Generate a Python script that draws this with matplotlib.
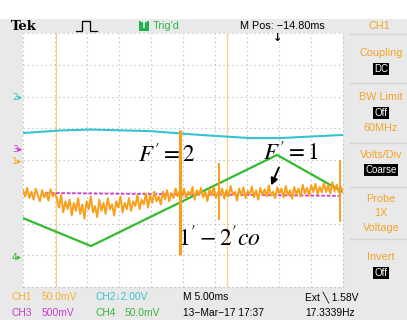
import numpy as np
import matplotlib
matplotlib.use("Agg")
import matplotlib.pyplot as plt
from matplotlib.patches import Rectangle
from matplotlib.lines import Line2D

# ── Trace data (screen divisions: x 0..10, y -4..4) ─────────────────

ch2_x = [0, 1.16, 2.09, 3.97, 5.53, 7.09, 8.03, 10]
ch2_y = [0.85, 0.93, 0.96, 0.91, 0.79, 0.69, 0.69, 0.79]

ch4_x = [0, 2.125, 7.94, 10]
ch4_y = [-1.83, -2.71, 0.16, -1.01]

ch3_x = [0.69, 10]
ch3_y = [-1.04, -1.13]

ch1_y = [
    # left, flat part
    -0.95, -1.15, -0.88, -1.2, -1.0, -1.25, -0.9, -1.1, -1.3, -0.95, -1.18, -1.02, -1.28, -0.92, -1.15, -1.05,
    # dip
    -1.2, -1.5, -1.1, -1.65, -1.3, -1.55, -1.25, -1.75, -1.35, -1.6, -1.2, -1.7, -1.4, -1.85, -1.3, -1.55,
    -1.15, -1.65, -1.45, -1.8, -1.25, -1.6, -1.35, -1.7, -1.2, -1.55, -1.4, -1.75, -1.3, -1.5, -1.15, -1.65,
    -1.35, -1.55, -1.2, -1.6, -1.3, -1.45, -1.1, -1.55, -1.25, -1.4, -1.05, -1.5,
    # recovery
    -1.1, -1.35, -1.0, -1.3, -1.15, -1.4, -1.0, -1.25, -0.95, -1.3, -1.05, -1.2, -0.9, -1.15,
    # right part
    -0.95, -1.15, -0.9, -1.2, -1.0, -1.1, -0.85, -1.25, -0.95, -1.1, -0.88, -1.18, -1.0, -1.3, -0.92, -1.12,
    -0.85, -1.2, -1.0, -1.08, -0.9, -1.22, -0.95, -1.15, -0.82, -1.1, -1.0, -1.28, -0.9, -1.12, -0.86, -1.2,
    -0.98, -1.08, -0.84, -1.18, -0.95, -1.25, -0.88, -1.1, -0.92, -1.15, -0.8, -1.12, -1.0, -1.2, -0.86, -1.05,
    -0.9, -1.18, -0.82, -1.1, -0.95, -1.22, -0.85, -1.08, -0.9, -1.15, -0.78, -1.05, -0.88, -1.12, -0.8, -1.0,
    -0.75, -1.08, -0.85, -1.02, -0.72, -1.0, -0.8, -1.05, -0.7, -0.98, -0.78, -1.02, -0.85, -1.0,
]
ch1_x = np.linspace(0, 10, len(ch1_y))

spike_x = [4.91, 6.125, 9.91]
spike_top = [0.94, -0.09, 0.0]
spike_bot = [-3.0, -1.89, -1.95]
spike_w = [2.2, 1.4, 1.4]

cursor_x = [1.03, 6.375]

# colours
ORANGE = "#f9a01b"
CURSOR = "#f9cf85"
CYAN = "#35c3cf"
MAGENTA = "#d03cd0"
GREEN = "#30bb30"
PANEL_TXT = "#f2a52a"
BG = "#e9e9e9"

W, H = 407, 320
SANS = "Liberation Sans"


def px(x, y):
    return x / W, 1 - y / H


fig = plt.figure(figsize=(W / 100, H / 100), dpi=100, facecolor=BG)

# white strip above the header
fig.patches.append(Rectangle((0, 1 - 19 / H), 1, 19 / H, transform=fig.transFigure,
                             facecolor="white", edgecolor="none"))

# ── Graticule ──
ax = fig.add_axes([23 / W, (H - 287) / H, 320 / W, 254 / H])
ax.set_facecolor("white")
ax.set_xlim(0, 10)
ax.set_ylim(-4, 4)
ax.set_xticks([])
ax.set_yticks([])
for s in ax.spines.values():
    s.set_visible(False)
for k in range(11):
    ax.axvline(k, color="#b5b5b5", lw=0.8, ls=(0, (1, 3)), clip_on=False, zorder=0)
for k in range(-4, 5):
    ax.axhline(k, color="#b5b5b5", lw=0.8, ls=(0, (1, 3)), clip_on=False, zorder=0)

# cursors
for cx in cursor_x:
    ax.axvline(cx, color=CURSOR, lw=0.9, zorder=1)

# traces
ax.plot(ch2_x, ch2_y, color=CYAN, lw=1.5, zorder=2)
ax.plot(ch3_x, ch3_y, color=MAGENTA, lw=1.3, ls=(0, (2, 1)), zorder=2)
ax.plot(ch4_x, ch4_y, color=GREEN, lw=1.6, zorder=3)
ax.plot(ch1_x, ch1_y, color=ORANGE, lw=1.4, zorder=4)
for sx, st, sb, sw in zip(spike_x, spike_top, spike_bot, spike_w):
    ax.vlines(sx, sb, st, color=ORANGE, lw=sw, zorder=4)

# annotations
ax.text(3.59, 0.16, r"$F' = 2$", fontsize=16.5, math_fontfamily="stix",
        ha="left", va="center", zorder=6)
ax.text(7.5, 0.22, r"$F' = 1$", fontsize=16.5, math_fontfamily="stix",
        ha="left", va="center", zorder=6)
ax.text(4.84, -2.46, r"$1' - 2'co$", fontsize=17, math_fontfamily="stix",
        ha="left", va="center", zorder=6)
ax.annotate("", xy=(7.72, -0.88), xytext=(8.03, -0.16),
            arrowprops=dict(arrowstyle="-|>", color="black", lw=1.4, mutation_scale=10), zorder=6)

# trigger position marker
fig.text(*px(278, 38), "\u2193", fontsize=8, fontweight="bold", ha="center", va="center")

# channel ground markers
for lab, y, c in [("2", 98, CYAN), ("3", 150, MAGENTA), ("1", 162, ORANGE), ("4", 257, GREEN)]:
    fig.text(*px(17, y), lab + "\u25b8", fontsize=6.5, color=c, ha="center", va="center",
             family="DejaVu Sans")

# ── Header ──
fig.text(*px(11, 26), "Tek", fontsize=9.5, fontweight="bold", family="DejaVu Serif",
         ha="left", va="center")
pulse_x = [76, 82, 82, 90, 90, 97]
pulse_y = [31, 31, 21, 21, 31, 31]
fig.lines.append(Line2D([x / W for x in pulse_x], [1 - y / H for y in pulse_y],
                        transform=fig.transFigure, color="black", lw=0.9))
fig.patches.append(Rectangle(px(139, 31), 10 / W, 10 / H, transform=fig.transFigure,
                             facecolor="#22b24a", edgecolor="none"))
fig.text(*px(144, 26), "T", fontsize=6, color="white", fontweight="bold",
         ha="center", va="center")
fig.text(*px(153, 26), "Trig'd", fontsize=7.8, color="#2ab54a", ha="left", va="center",
         family=SANS)
fig.text(*px(240, 26), "M Pos: \u221214.80ms", fontsize=7.8, color="black", ha="left",
         va="center", family=SANS)
fig.text(*px(379, 26), "CH1", fontsize=7.8, color=PANEL_TXT, ha="center", va="center",
         family=SANS)

# ── Right menu panel ──
for y in [34, 83, 143, 187, 239]:
    fig.lines.append(Line2D([350 / W, 1], [1 - y / H] * 2, transform=fig.transFigure,
                            color="#d4d4d4", lw=1.0))
menu = [("Coupling", 53), ("BW Limit", 97), ("60MHz", 128), ("Volts/Div", 155),
        ("Probe", 199), ("1X", 213), ("Voltage", 228), ("Invert", 257)]
for lab, y in menu:
    fig.text(*px(381, y), lab, fontsize=7.8, color=PANEL_TXT, ha="center", va="center",
             family=SANS)
boxes = [("DC", 69), ("Off", 113), ("Coarse", 170), ("Off", 273)]
for lab, y in boxes:
    fig.text(*px(381, y), lab, fontsize=7, color="white", ha="center", va="center",
             family=SANS, bbox=dict(facecolor="black", edgecolor="none", pad=1.0))

# ── Bottom status lines ──
status = [
    ("CH1", 12, 297, "#f5b335"), ("50.0mV", 42, 297, "#f5b335"),
    ("CH2\u21932.00V", 96, 297, "#3cc3cf"), ("M 5.00ms", 183, 297, "black"),
    ("Ext \u2572 1.58V", 305, 297, "black"),
    ("CH3", 12, 313, "#c93cc9"), ("500mV", 42, 313, "#c93cc9"),
    ("CH4", 96, 313, "#3cb43c"), ("50.0mV", 125, 313, "#3cb43c"),
    ("13\u2212Mar\u221217 17:37", 183, 313, "black"), ("17.3339Hz", 305, 313, "black"),
]
for lab, x, y, c in status:
    fig.text(*px(x, y), lab, fontsize=7.4, color=c, ha="left", va="center",
             family=[SANS, "DejaVu Sans"])

fig.savefig("out.png", dpi=100, facecolor=BG)
